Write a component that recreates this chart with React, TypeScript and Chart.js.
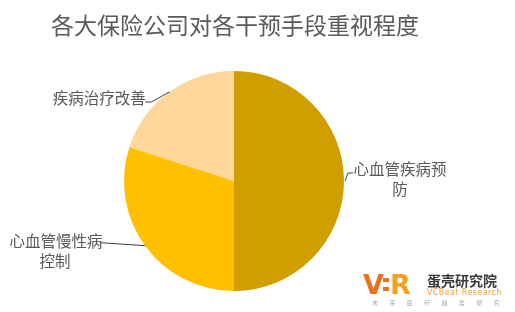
import React, { useEffect, useRef } from "react";
import { Chart, registerables } from "chart.js";

Chart.register(...registerables);

const title = "各大保险公司对各干预手段重视程度";
const categories = ["心血管疾病预防", "心血管慢性病控制", "疾病治疗改善"];
const values = [50, 30, 20];
const colors = ["#D19E00", "#FFC000", "#FFD79B"];
// label lines (wrapped as in the picture)
const labelLines = [["心血管疾病预", "防"], ["心血管慢性病", "控制"], ["疾病治疗改善"]];

const FONT = '"Noto Sans CJK SC", "Noto Sans", sans-serif';

const labelPlugin = {
  id: "pieLabels",
  afterDraw(chart: any) {
    const ctx = chart.ctx;
    const meta = chart.getDatasetMeta(0);
    ctx.save();
    // title
    ctx.fillStyle = "#595959";
    ctx.font = `23px ${FONT}`;
    ctx.textAlign = "center";
    ctx.textBaseline = "middle";
    ctx.fillText(title, 235, 25);

    ctx.font = `15.5px ${FONT}`;
    ctx.strokeStyle = "#404040";
    ctx.lineWidth = 1;
    meta.data.forEach((arc: any, i: number) => {
      const mid = (arc.startAngle + arc.endAngle) / 2;
      const ax = arc.x + Math.cos(mid) * arc.outerRadius;
      const ay = arc.y + Math.sin(mid) * arc.outerRadius;
      const lines = labelLines[i];
      ctx.beginPath();
      if (i === 0) {
        ctx.moveTo(ax + 1, ay);
        ctx.lineTo(ax + 4, ay - 8);
        ctx.lineTo(ax + 9, ay - 8);
        ctx.stroke();
        ctx.fillStyle = "#595959";
        ctx.fillText(lines[0], ax + 56, ay - 12);
        ctx.fillText(lines[1], ax + 56, ay + 8);
      } else if (i === 1) {
        ctx.moveTo(ax, ay);
        ctx.lineTo(ax - 45, ay - 3);
        ctx.stroke();
        ctx.fillStyle = "#595959";
        ctx.fillText(lines[0], ax - 89, ay - 5);
        ctx.fillText(lines[1], ax - 90, ay + 15);
      } else {
        ctx.moveTo(ax, ay);
        ctx.lineTo(ax - 18, ay + 10);
        ctx.lineTo(ax - 24, ay + 10);
        ctx.stroke();
        ctx.fillStyle = "#595959";
        ctx.fillText(lines[0], ax - 70, ay + 6);
      }
    });

    // logo
    ctx.textBaseline = "alphabetic";
    ctx.textAlign = "left";
    ctx.fillStyle = "#E8731C";
    ctx.font = `bold 27px "DejaVu Sans", sans-serif`;
    ctx.fillText("V", 363, 294);
    ctx.fillRect(383, 278, 6, 4);
    ctx.fillRect(383, 287, 6, 4);
    ctx.fillStyle = "#F3A21E";
    ctx.fillText("R", 390, 294);

    ctx.fillStyle = "#3A3A3A";
    ctx.font = `bold 14px ${FONT}`;
    ctx.textBaseline = "middle";
    ctx.fillText("蛋壳研究院", 427, 281);
    ctx.fillStyle = "#F0A030";
    ctx.font = `8px "DejaVu Sans", sans-serif`;
    (ctx as any).letterSpacing = "0.4px";
    ctx.fillText("VCBeat Research", 427, 293);
    (ctx as any).letterSpacing = "0px";
    ctx.fillStyle = "#AAAAAA";
    ctx.font = `6px ${FONT}`;
    ctx.textAlign = "center";
    const sub = "未来医疗趋势研究";
    for (let k = 0; k < sub.length; k++) {
      ctx.fillText(sub[k], 375 + k * 17.4, 303);
    }
    ctx.restore();
  },
};

export default function App() {
  const ref = useRef<HTMLCanvasElement | null>(null);
  useEffect(() => {
    if (!ref.current) return;
    const chart = new Chart(ref.current, {
      type: "pie",
      data: {
        labels: categories,
        datasets: [
          {
            data: values,
            backgroundColor: colors,
            borderColor: "#FFFFFF",
            borderWidth: 0,
          },
        ],
      },
      options: {
        animation: false,
        responsive: false,
        layout: { padding: { top: 71, bottom: 21, left: 124, right: 171 } },
        plugins: {
          legend: { display: false },
          tooltip: { enabled: false },
          title: { display: false },
        },
      },
      plugins: [labelPlugin],
    });
    return () => chart.destroy();
  }, []);
  return (
    <div style={{ position: "fixed", left: 0, top: 0, width: 515, height: 312, background: "#fff" }}>
      <canvas ref={ref} width={515} height={312} style={{ width: 515, height: 312 }} />
    </div>
  );
}
